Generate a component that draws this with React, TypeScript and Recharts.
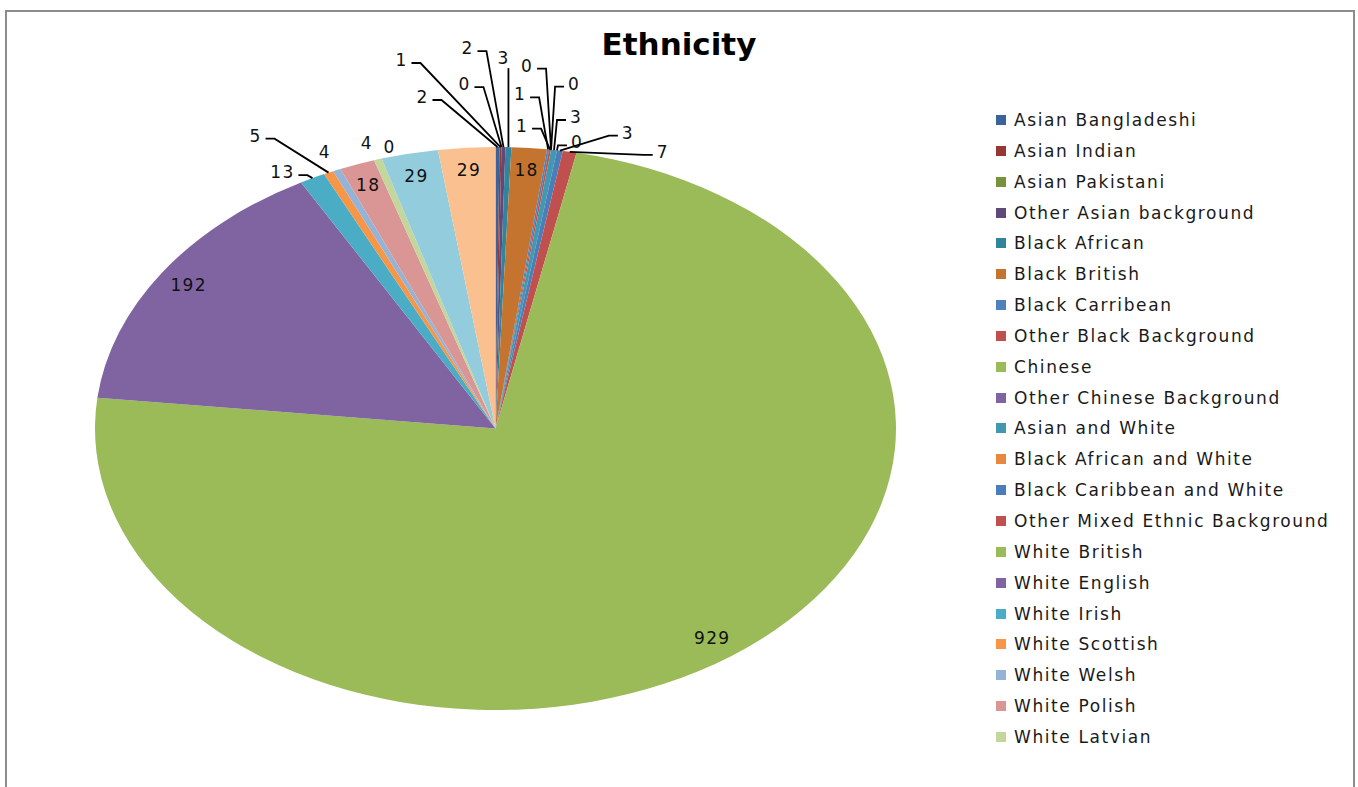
import React from 'react';
import { PieChart, Pie, Cell, Legend } from 'recharts';

const categories = [
  'Asian Bangladeshi',
  'Asian Indian',
  'Asian Pakistani',
  'Other Asian background',
  'Black African',
  'Black British',
  'Black Carribean',
  'Other Black Background',
  'Chinese',
  'Other Chinese Background',
  'Asian and White',
  'Black African and White',
  'Black Caribbean and White',
  'Other Mixed Ethnic Background',
  'White British',
  'White English',
  'White Irish',
  'White Scottish',
  'White Welsh',
  'White Polish',
  'White Latvian',
  'White Other',
  'Other Ethnic Group',
  'Not Stated',
];

const counts = [2, 1, 0, 2, 3, 18, 1, 1, 0, 0, 3, 0, 3, 7, 929, 192, 13, 5, 4, 18, 4, 0, 29, 29];

const colors = [
  '#3a6399', '#953735', '#76923c', '#5f497a', '#31849b', '#c4742f',
  '#4f81bd', '#c0504d', '#9bbb59', '#8064a2', '#4198af', '#e8883e',
  '#4a7ebb', '#c0504d', '#9bbb59', '#8064a2', '#4bacc6', '#f79646',
  '#95b3d7', '#d99694', '#c3d69b', '#b3a2c7', '#93cddd', '#fac090',
];

// only the first 21 names fit in the legend of the original
const legendNames = categories.slice(0, 21);

const data = categories.map((name, i) => ({ name, value: counts[i] }));

// label placement: 'in' = inside near the rim, otherwise offset from the rim point
type LabelPos = { mode: 'in' } | { mode: 'out'; dx: number; dy: number; line: 'l' | 'r' | 'b' | 'none' };
const labelLayout: LabelPos[] = [
  { mode: 'out', dx: -75, dy: -50, line: 'l' },
  { mode: 'out', dx: -99, dy: -87, line: 'l' },
  { mode: 'out', dx: -37, dy: -63, line: 'l' },
  { mode: 'out', dx: -36, dy: -99, line: 'l' },
  { mode: 'out', dx: -5, dy: -89, line: 'b' },
  { mode: 'in' },
  { mode: 'out', dx: -28, dy: -55, line: 'l' },
  { mode: 'out', dx: -28, dy: -24, line: 'l' },
  { mode: 'out', dx: -24, dy: -84, line: 'l' },
  { mode: 'out', dx: 23, dy: -66, line: 'r' },
  { mode: 'out', dx: 22, dy: -33, line: 'r' },
  { mode: 'out', dx: 20, dy: -8, line: 'r' },
  { mode: 'out', dx: 68, dy: -18, line: 'r' },
  { mode: 'out', dx: 93, dy: 0, line: 'r' },
  { mode: 'in' },
  { mode: 'in' },
  { mode: 'out', dx: -30, dy: -6, line: 'l' },
  { mode: 'out', dx: -73, dy: -37, line: 'l' },
  { mode: 'out', dx: -12, dy: -18, line: 'none' },
  { mode: 'in' },
  { mode: 'out', dx: -11, dy: -16, line: 'none' },
  { mode: 'out', dx: 8, dy: -12, line: 'none' },
  { mode: 'in' },
  { mode: 'in' },
];

const RAD = Math.PI / 180;
const STRETCH = 400.5 / 281.5; // the original pie is an ellipse
const FONT = '"DejaVu Sans", sans-serif';

const EllipseSector = (props: any) => {
  const { cx, cy, outerRadius, startAngle, endAngle, fill } = props;
  const delta = endAngle - startAngle;
  if (Math.abs(delta) < 1e-6) return <g />;
  const rx = outerRadius * STRETCH;
  const ry = outerRadius;
  const x1 = cx + rx * Math.cos(-startAngle * RAD);
  const y1 = cy + ry * Math.sin(-startAngle * RAD);
  const x2 = cx + rx * Math.cos(-endAngle * RAD);
  const y2 = cy + ry * Math.sin(-endAngle * RAD);
  const large = Math.abs(delta) > 180 ? 1 : 0;
  const sweep = delta < 0 ? 1 : 0;
  const d = `M${cx},${cy} L${x1},${y1} A${rx},${ry} 0 ${large} ${sweep} ${x2},${y2} Z`;
  return <path d={d} fill={fill} stroke="none" />;
};

const renderLabel = (props: any) => {
  const { cx, cy, midAngle, outerRadius, index, value } = props;
  const rx = outerRadius * STRETCH;
  const ry = outerRadius;
  const cos = Math.cos(-midAngle * RAD);
  const sin = Math.sin(-midAngle * RAD);
  const pos = labelLayout[index];
  const text = String(value);
  const w = text.length * 12;
  let lx: number;
  let ly: number;
  let line: React.ReactNode = null;
  if (pos.mode === 'in') {
    lx = cx + rx * 0.92 * cos;
    ly = cy + ry * 0.92 * sin;
  } else {
    const ax = cx + rx * cos;
    const ay = cy + ry * sin;
    lx = ax + pos.dx;
    ly = ay + pos.dy;
    let pts = '';
    if (pos.line === 'l') {
      const sx = lx + w / 2 + 4;
      pts = `${sx},${ly + 3} ${sx + 9},${ly + 3} ${ax},${ay}`;
    } else if (pos.line === 'r') {
      const sx = lx - w / 2 - 4;
      pts = `${sx},${ly + 3} ${sx - 9},${ly + 3} ${ax},${ay}`;
    } else if (pos.line === 'b') {
      pts = `${ax},${ly + 10} ${ax},${ay}`;
    }
    if (pts) line = <polyline points={pts} fill="none" stroke="#000" strokeWidth={1.8} />;
  }
  return (
    <g key={`lbl-${index}`}>
      {line}
      <text
        x={lx}
        y={ly}
        textAnchor="middle"
        dominantBaseline="central"
        fontFamily={FONT}
        fontSize={17}
        letterSpacing={1.3}
        fill="#111"
      >
        {text}
      </text>
    </g>
  );
};

const renderLegend = (props: any) => {
  const payload: any[] = props.payload || [];
  // keep the data order, not the alphabetical one
  const items = legendNames
    .map((name) => payload.find((p: any) => p.value === name))
    .filter(Boolean);
  return (
    <div>
      {items.map((p: any) => (
        <div key={p.value} style={{ height: 30.85, display: 'flex', alignItems: 'center' }}>
          <span style={{ width: 10, height: 10, background: p.color, marginRight: 8, flex: 'none' }} />
          <span style={{ fontFamily: FONT, fontSize: 17, letterSpacing: 1.6, color: '#1a1a1a', whiteSpace: 'nowrap' }}>
            {p.value}
          </span>
        </div>
      ))}
    </div>
  );
};

export default function App() {
  return (
    <div style={{ position: 'absolute', left: 0, top: 0, width: 1358, height: 787, background: '#fff', overflow: 'hidden' }}>
      <div
        style={{
          position: 'absolute',
          left: 5,
          top: 10,
          width: 1346,
          height: 820,
          border: '2px solid #8c8c8c',
        }}
      />
      <div
        style={{
          position: 'absolute',
          left: 579,
          top: 29,
          width: 200,
          textAlign: 'center',
          fontFamily: FONT,
          fontWeight: 'bold',
          fontSize: 31,
          lineHeight: '31px',
          color: '#000',
        }}
      >
        Ethnicity
      </div>
      <div style={{ position: 'absolute', left: 0, top: 0 }}>
        <PieChart width={1358} height={787} margin={{ top: 0, right: 0, bottom: 0, left: 0 }}>
          <Pie
            data={data}
            dataKey="value"
            nameKey="name"
            cx={495.5}
            cy={428.5}
            outerRadius={281.5}
            startAngle={90}
            endAngle={-270}
            stroke="none"
            shape={EllipseSector}
            inactiveShape={EllipseSector}
            activeShape={EllipseSector}
            label={renderLabel}
            labelLine={false}
            isAnimationActive={false}
          >
            {data.map((d, i) => (
              <Cell key={d.name} fill={colors[i]} />
            ))}
          </Pie>
          <Legend
            layout="vertical"
            align="right"
            verticalAlign="top"
            content={renderLegend}
            wrapperStyle={{ left: 996, top: 104.6, width: 360 }}
          />
        </PieChart>
      </div>
    </div>
  );
}
